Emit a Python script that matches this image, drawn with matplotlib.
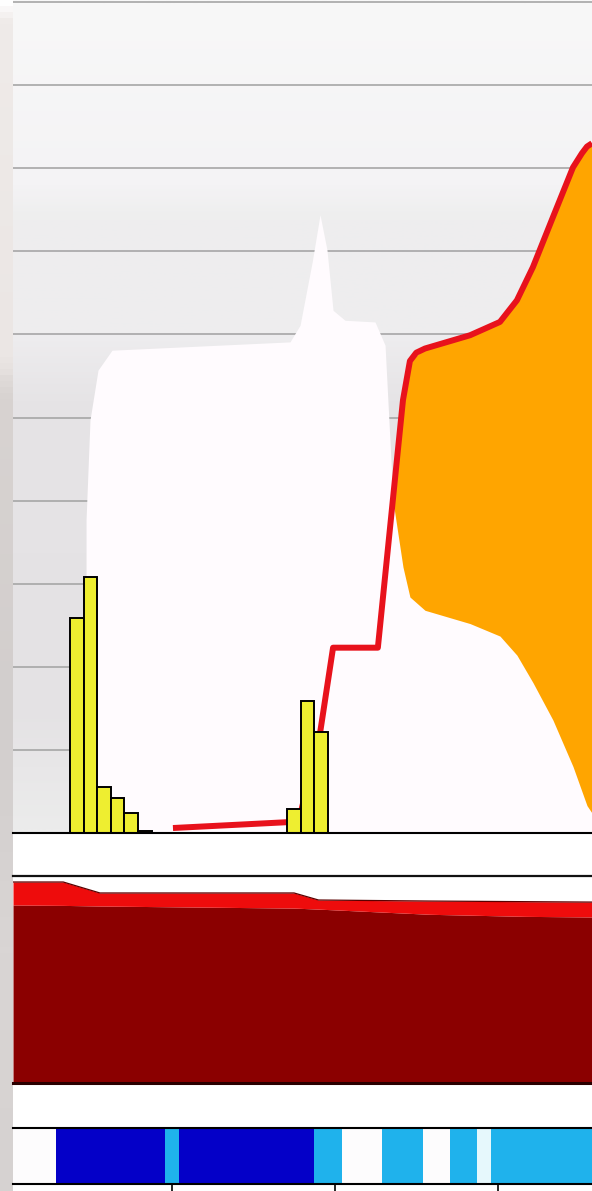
import numpy as np
import matplotlib
matplotlib.use("Agg")
import matplotlib.pyplot as plt
from matplotlib.colors import LinearSegmentedColormap

# ---------------- data (x in hours) ----------------
bar_hours = list(range(0, 19))
bar_values = [2.59, 3.08, 0.55, 0.42, 0.24, 0.03, 0, 0, 0, 0, 0, 0, 0, 0, 0, 0, 0.29, 1.59, 1.22]

red_x = [7.08, 15.48, 16.5, 17.91, 18.87, 22.17, 24.02, 24.53, 25.0, 25.64, 28.96, 31.16,
         32.41, 33.59, 35.06, 36.54, 37.2, 37.57, 37.94]
red_y = [0.06, 0.13, 0.25, 1.20, 2.23, 2.23, 5.21, 5.68, 5.78, 5.83, 5.99, 6.15,
         6.41, 6.81, 7.41, 8.01, 8.18, 8.26, 8.30]

orange_x = [23.29, 24.02, 24.53, 25.64, 28.96, 31.16, 32.41, 33.59, 35.06, 36.54, 37.57, 37.94]
orange_top = [3.99, 5.21, 5.68, 5.83, 5.99, 6.15, 6.41, 6.81, 7.41, 8.01, 8.26, 8.30]
orange_bottom = [3.99, 3.20, 2.84, 2.68, 2.52, 2.37, 2.14, 1.81, 1.36, 0.80, 0.33, 0.24]

white_x = [0.68, 0.68, 0.97, 1.56, 2.59, 15.70, 16.44, 17.33, 17.91, 18.42, 18.87,
           19.75, 21.96, 22.70, 23.29]
white_top = [0.0, 3.77, 4.97, 5.57, 5.81, 5.91, 6.11, 6.87, 7.44, 7.02, 6.29,
             6.17, 6.15, 5.87, 3.99]

mid_x = [-4.7, -1.0, 1.7, 16.0, 17.8, 26.0, 33.0, 37.94]
mid_dark = [86.0, 85.8, 85.5, 84.5, 84.0, 81.5, 80.5, 80.2]
mid_total = [97.1, 97.1, 91.8, 91.8, 88.4, 87.9, 87.6, 87.4]

strip_hours = list(range(-5, 39))
strip_codes = ([0] * 4 + [1] * 8 + [2] + [1] * 10 + [2] * 2 + [0] * 3 + [2] * 3 +
               [0] * 2 + [2] * 2 + [3] + [2] * 8)
strip_colors = ["#fdfcfd", "#0400c8", "#1fb2ec", "#e6f8fc"]

tick_hours = [7, 19, 31]

XMIN, XMAX = -4.70, 37.94

# ---------------- figure ----------------
W, H = 592, 1191
fig = plt.figure(figsize=(W / 100, H / 100), dpi=100)
fig.patch.set_facecolor("white")

def fy(px):
    return 1 - px / H

left = 13 / W
width = 1 - left

# left background strip (photo edge)
axs = fig.add_axes([0, 0, left, 1])
strip_bg = LinearSegmentedColormap.from_list(
    "s", [(0, "#fefefe"), (0.012, "#efebe9"), (0.3, "#ebe6e4"), (0.33, "#d8d3d1"),
          (0.6, "#d2cecd"), (0.8, "#d9d5d4"), (1, "#d6d2d1")])
axs.imshow(np.linspace(0, 1, 200).reshape(-1, 1), aspect="auto", cmap=strip_bg,
           extent=[0, 1, 1, 0])
axs.axis("off")

# ---------------- top panel ----------------
ax = fig.add_axes([left, fy(833), width, 833 / H])
ax.set_xlim(XMIN, XMAX)
ax.set_ylim(0, 833 / 83.1)
bg = LinearSegmentedColormap.from_list(
    "bg", [(0, "#f8f8f8"), (0.22, "#f4f3f5"), (0.26, "#eeeeee"), (0.40, "#eeedef"),
           (0.48, "#e6e4e6"), (0.85, "#e4e2e4"), (1, "#ececec")])
ax.imshow(np.linspace(0, 1, 300).reshape(-1, 1), aspect="auto", cmap=bg,
          extent=[XMIN, XMAX, 0, 833 / 83.1], origin="upper", zorder=0)
for g in range(1, 11):
    ax.axhline(g, color="#a6a6a6", lw=1.2, zorder=1)

wx = np.array(white_x + orange_x[1:])
wt = np.array(white_top + orange_top[1:])
ax.fill_between(wx, 0, wt, color="#fffbfe", lw=0, zorder=2)
ax.fill_between(orange_x, orange_bottom, orange_top, color="#ffa500", lw=0, zorder=3)
ax.plot(red_x, red_y, color="#e8121c", lw=4.3, solid_capstyle="butt",
        solid_joinstyle="round", zorder=4)
ax.bar(bar_hours, bar_values, width=1.0, color="#eeee30", edgecolor="black",
       lw=1.4, zorder=5)
for s in ["top", "left", "right"]:
    ax.spines[s].set_visible(False)
ax.spines["bottom"].set_color("black")
ax.spines["bottom"].set_linewidth(1.5)
ax.spines["bottom"].set_zorder(6)
ax.set_xticks([])
ax.set_yticks([])

# ---------------- middle panel ----------------
am = fig.add_axes([left, fy(1083), width, (1083 - 876) / H])
am.set_xlim(XMIN, XMAX)
am.set_ylim(0, 100)
am.fill_between(mid_x, 0, mid_dark, color="#8b0000", lw=0)
am.fill_between(mid_x, mid_dark, mid_total, color="#ee0c0c", lw=0)
am.plot(mid_x, mid_total, color="#5a0000", lw=0.9)
for s in ["left", "right"]:
    am.spines[s].set_visible(False)
am.spines["top"].set_color("#111111")
am.spines["top"].set_linewidth(1.6)
am.spines["bottom"].set_color("#2a0000")
am.spines["bottom"].set_linewidth(2.2)
am.set_xticks([])
am.set_yticks([])

# ---------------- bottom strip ----------------
ab = fig.add_axes([left, fy(1184), width, (1184 - 1128) / H])
ab.set_xlim(XMIN, XMAX)
ab.set_ylim(0, 1)
ab.bar(strip_hours, [1] * len(strip_hours), width=1.0, bottom=0,
       color=[strip_colors[c] for c in strip_codes], lw=0)
for s in ["left", "right"]:
    ab.spines[s].set_visible(False)
for s in ["top", "bottom"]:
    ab.spines[s].set_color("black")
    ab.spines[s].set_linewidth(1.5)
ab.set_yticks([])
ab.set_xticks(tick_hours)
ab.set_xticklabels([])
ab.tick_params(axis="x", direction="out", length=5, width=1.2, color="black")

fig.savefig("out.png", dpi=100)
